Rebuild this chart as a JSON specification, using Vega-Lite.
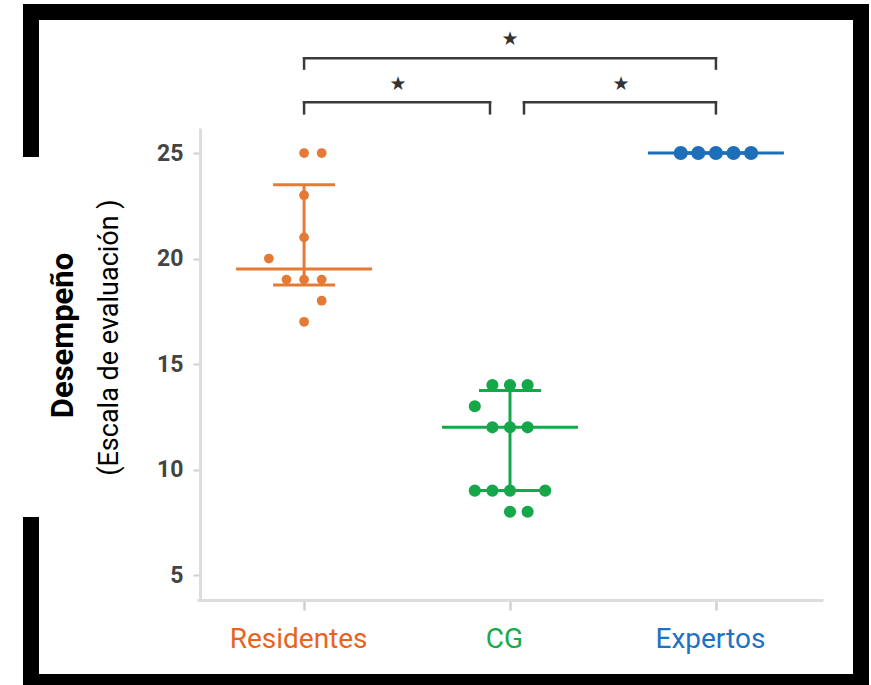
{
  "$schema": "https://vega.github.io/schema/vega-lite/v6.json",
  "width": 830,
  "height": 670,
  "autosize": {"type": "none"},
  "padding": {"left": 31, "top": 12, "right": 10, "bottom": 3},
  "background": "white",
  "config": {
    "view": {"stroke": "black", "strokeWidth": 16, "strokeDash": [2487, 376], "strokeCap": "square", "fill": "white"},
    "font": "Roboto"
  },
  "datasets": {
    "dots": [
      {"group": "Residentes", "value": 25, "slot": 0},
      {"group": "Residentes", "value": 25, "slot": 1},
      {"group": "Residentes", "value": 23, "slot": 0},
      {"group": "Residentes", "value": 21, "slot": 0},
      {"group": "Residentes", "value": 20, "slot": -2},
      {"group": "Residentes", "value": 19, "slot": -1},
      {"group": "Residentes", "value": 19, "slot": 0},
      {"group": "Residentes", "value": 19, "slot": 1},
      {"group": "Residentes", "value": 18, "slot": 1},
      {"group": "Residentes", "value": 17, "slot": 0},
      {"group": "CG", "value": 14, "slot": -1},
      {"group": "CG", "value": 14, "slot": 0},
      {"group": "CG", "value": 14, "slot": 1},
      {"group": "CG", "value": 13, "slot": -2},
      {"group": "CG", "value": 12, "slot": -1},
      {"group": "CG", "value": 12, "slot": 0},
      {"group": "CG", "value": 12, "slot": 1},
      {"group": "CG", "value": 9, "slot": -2},
      {"group": "CG", "value": 9, "slot": -1},
      {"group": "CG", "value": 9, "slot": 0},
      {"group": "CG", "value": 9, "slot": 2},
      {"group": "CG", "value": 8, "slot": 0},
      {"group": "CG", "value": 8, "slot": 1},
      {"group": "Expertos", "value": 25, "slot": -2},
      {"group": "Expertos", "value": 25, "slot": -1},
      {"group": "Expertos", "value": 25, "slot": 0},
      {"group": "Expertos", "value": 25, "slot": 1},
      {"group": "Expertos", "value": 25, "slot": 2}
    ],
    "summary": [
      {"group": "Residentes", "q1": 18.75, "median": 19.5, "q3": 23.5},
      {"group": "CG", "q1": 9, "median": 12, "q3": 13.75},
      {"group": "Expertos", "q1": 25, "median": 25, "q3": 25}
    ],
    "brackets": [
      {"id": "a", "from": "Residentes", "to": "Expertos", "top": 29.49, "foot": 29.0, "starY": 30.4, "star": "★"},
      {"id": "b", "from": "Residentes", "to": "CG", "top": 27.4, "foot": 26.88, "starY": 28.26, "star": "★"},
      {"id": "c", "from": "CG", "to": "Expertos", "top": 27.4, "foot": 26.88, "starY": 28.26, "star": "★"}
    ]
  },
  "resolve": {"axis": {"y": "independent"}},
  "layer": [
    {
      "data": {"name": "summary"},
      "mark": {"type": "rule", "strokeWidth": 3},
      "encoding": {
        "x": {"field": "group", "type": "nominal", "scale": {"type": "point", "domain": ["Residentes", "CG", "Expertos"], "range": [166, 792], "padding": 0.52}, "axis": {"orient": "bottom", "offset": -82, "title": null, "labelAngle": 0, "labelOverlap": false, "domainColor": "#dddddd", "domainWidth": 3, "tickColor": "#d0d0d0", "tickWidth": 2.5, "tickSize": 10, "labelFont": "Roboto", "labelFontSize": 28, "labelPadding": 15, "labelOffset": -6, "labelColor": {"condition": [{"test": "datum.value === 'Residentes'", "value": "#E8641E"}, {"test": "datum.value === 'CG'", "value": "#17A94B"}], "value": "#1C73C6"}, "grid": false}},
        "y": {"field": "q1", "type": "quantitative", "scale": {"domain": [3.839, 26.185], "range": [587.5, 116], "nice": false, "zero": false}, "axis": null},
        "y2": {"field": "q3"},
        "color": {"field": "group", "type": "nominal", "scale": {"domain": ["Residentes", "CG", "Expertos"], "range": ["#E47A35", "#14A84A", "#1E6FB9"]}, "legend": null}
      }
    },
    {
      "data": {"name": "summary"},
      "mark": {"type": "tick", "size": 62, "thickness": 3, "orient": "horizontal", "opacity": 1},
      "encoding": {
        "x": {"field": "group", "type": "nominal"},
        "y": {"field": "q1", "type": "quantitative", "axis": null},
        "color": {"field": "group", "type": "nominal", "legend": null}
      }
    },
    {
      "data": {"name": "summary"},
      "mark": {"type": "tick", "size": 62, "thickness": 3, "orient": "horizontal", "opacity": 1},
      "encoding": {
        "x": {"field": "group", "type": "nominal"},
        "y": {"field": "q3", "type": "quantitative", "axis": null},
        "color": {"field": "group", "type": "nominal", "legend": null}
      }
    },
    {
      "data": {"name": "summary"},
      "mark": {"type": "tick", "size": 136, "thickness": 3, "orient": "horizontal", "opacity": 1},
      "encoding": {
        "x": {"field": "group", "type": "nominal"},
        "y": {"field": "median", "type": "quantitative", "axis": {"orient": "left", "offset": -169, "domain": false, "ticks": false, "labels": false, "grid": false, "title": "(Escala de evaluación )", "titleFont": "Roboto", "titleFontSize": 27, "titleFontWeight": "normal", "titleColor": "#000000", "titleX": -83, "titleY": 325, "titleBaseline": "alphabetic", "titleAlign": "center", "titleAngle": 270}},
        "color": {"field": "group", "type": "nominal", "legend": null}
      }
    },
    {
      "data": {"name": "dots"},
      "mark": {"type": "circle", "opacity": 1},
      "encoding": {
        "x": {"field": "group", "type": "nominal"},
        "xOffset": {"field": "slot", "type": "quantitative", "scale": {"domain": [-1, 1], "range": [-17.6, 17.6]}},
        "y": {"field": "value", "type": "quantitative", "axis": {"orient": "left", "offset": -169, "values": [5, 10, 15, 20, 25], "domain": true, "domainColor": "#dddddd", "domainWidth": 3, "tickColor": "#cfcfcf", "tickWidth": 2, "tickSize": 7, "labelFont": "Roboto", "labelFontSize": 23, "labelFontWeight": "bold", "labelColor": "#444444", "labelPadding": 10, "grid": false, "title": "Desempeño", "titleFont": "Roboto", "titleFontSize": 31, "titleFontWeight": "bold", "titleColor": "#000000", "titleX": -128, "titleY": 323, "titleBaseline": "alphabetic", "titleAlign": "center", "titleAngle": 270}},
        "color": {"field": "group", "type": "nominal", "legend": null},
        "size": {"field": "group", "type": "nominal", "scale": {"domain": ["Residentes", "CG", "Expertos"], "range": [95, 200, 80]}, "legend": null}
      }
    },
    {
      "data": {"name": "brackets"},
      "transform": [{"filter": "datum.id === 'a'"}],
      "mark": {"type": "rule", "strokeWidth": 2.5, "color": "#3a3a3a", "strokeCap": "square"},
      "encoding": {
        "x": {"field": "from", "type": "nominal"},
        "x2": {"field": "to"},
        "y": {"field": "top", "type": "quantitative", "axis": null}
      }
    },
    {
      "data": {"name": "brackets"},
      "transform": [{"filter": "datum.id === 'b'"}],
      "mark": {"type": "rule", "strokeWidth": 2.5, "color": "#3a3a3a", "strokeCap": "square", "x2Offset": -20},
      "encoding": {
        "x": {"field": "from", "type": "nominal"},
        "x2": {"field": "to"},
        "y": {"field": "top", "type": "quantitative", "axis": null}
      }
    },
    {
      "data": {"name": "brackets"},
      "transform": [{"filter": "datum.id === 'c'"}],
      "mark": {"type": "rule", "strokeWidth": 2.5, "color": "#3a3a3a", "strokeCap": "square", "xOffset": 14},
      "encoding": {
        "x": {"field": "from", "type": "nominal"},
        "x2": {"field": "to"},
        "y": {"field": "top", "type": "quantitative", "axis": null}
      }
    },
    {
      "data": {"name": "brackets"},
      "transform": [{"filter": "datum.id !== 'c'"}],
      "mark": {"type": "rule", "strokeWidth": 2.5, "color": "#3a3a3a", "strokeCap": "square"},
      "encoding": {
        "x": {"field": "from", "type": "nominal"},
        "y": {"field": "top", "type": "quantitative", "axis": null},
        "y2": {"field": "foot"}
      }
    },
    {
      "data": {"name": "brackets"},
      "transform": [{"filter": "datum.id === 'c'"}],
      "mark": {"type": "rule", "strokeWidth": 2.5, "color": "#3a3a3a", "strokeCap": "square", "xOffset": 14},
      "encoding": {
        "x": {"field": "from", "type": "nominal"},
        "y": {"field": "top", "type": "quantitative", "axis": null},
        "y2": {"field": "foot"}
      }
    },
    {
      "data": {"name": "brackets"},
      "transform": [{"filter": "datum.id !== 'b'"}],
      "mark": {"type": "rule", "strokeWidth": 2.5, "color": "#3a3a3a", "strokeCap": "square"},
      "encoding": {
        "x": {"field": "to", "type": "nominal"},
        "y": {"field": "top", "type": "quantitative", "axis": null},
        "y2": {"field": "foot"}
      }
    },
    {
      "data": {"name": "brackets"},
      "transform": [{"filter": "datum.id === 'b'"}],
      "mark": {"type": "rule", "strokeWidth": 2.5, "color": "#3a3a3a", "strokeCap": "square", "xOffset": -20},
      "encoding": {
        "x": {"field": "to", "type": "nominal"},
        "y": {"field": "top", "type": "quantitative", "axis": null},
        "y2": {"field": "foot"}
      }
    },
    {
      "data": {"name": "brackets"},
      "transform": [{"filter": "datum.id === 'a'"}],
      "mark": {"type": "text", "font": "DejaVu Sans", "fontSize": 19, "color": "#333333", "baseline": "middle", "align": "center"},
      "encoding": {
        "x": {"datum": "CG", "type": "nominal"},
        "y": {"field": "starY", "type": "quantitative", "axis": null},
        "text": {"field": "star"}
      }
    },
    {
      "data": {"name": "brackets"},
      "transform": [{"filter": "datum.id === 'b'"}],
      "mark": {"type": "text", "font": "DejaVu Sans", "fontSize": 19, "color": "#333333", "baseline": "middle", "align": "center", "dx": 94},
      "encoding": {
        "x": {"field": "from", "type": "nominal"},
        "y": {"field": "starY", "type": "quantitative", "axis": null},
        "text": {"field": "star"}
      }
    },
    {
      "data": {"name": "brackets"},
      "transform": [{"filter": "datum.id === 'c'"}],
      "mark": {"type": "text", "font": "DejaVu Sans", "fontSize": 19, "color": "#333333", "baseline": "middle", "align": "center", "dx": -95},
      "encoding": {
        "x": {"field": "to", "type": "nominal"},
        "y": {"field": "starY", "type": "quantitative", "axis": null},
        "text": {"field": "star"}
      }
    }
  ]
}
